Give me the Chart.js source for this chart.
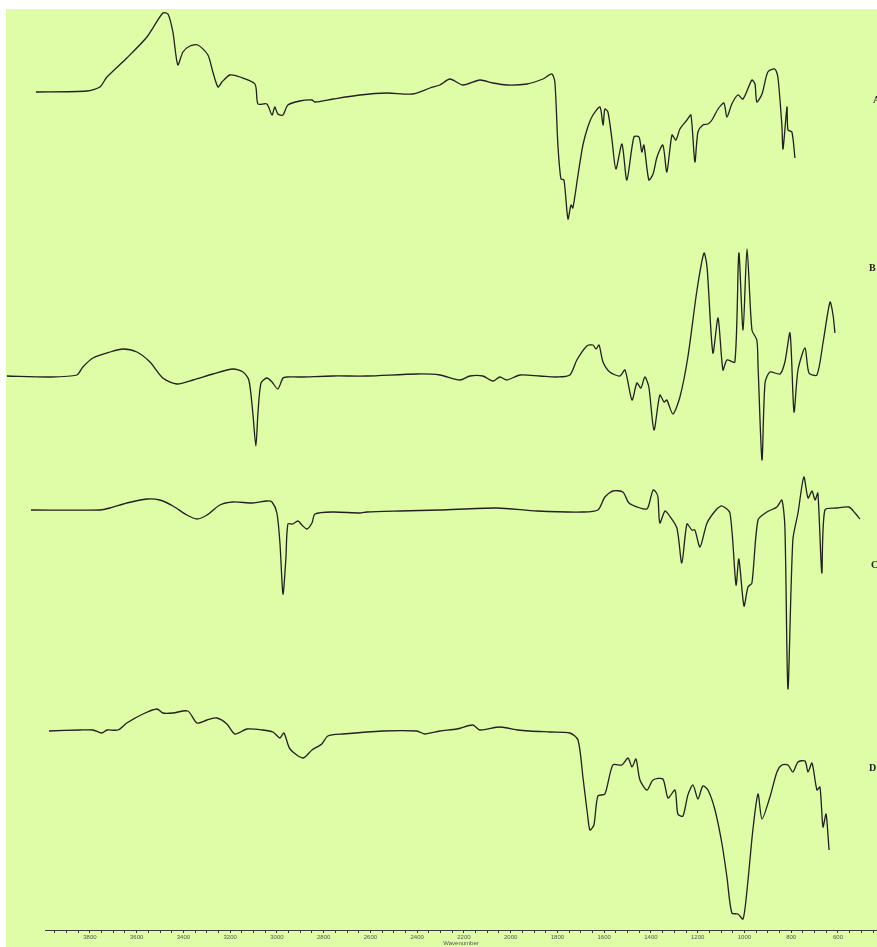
<!DOCTYPE html>
<html>
<head>
<meta charset="utf-8">
<script src="https://cdn.jsdelivr.net/npm/chart.js@4.4.1/dist/chart.umd.min.js"></script>
<style>
  html, body { margin: 0; padding: 0; background: #fff; }
  canvas { display: block; }
</style>
</head>
<body>
<canvas id="ftir" width="877" height="947"></canvas>
<script>
// --- Data: [wavenumber cm-1, relative transmittance] ---
const traceNames = ['A', 'B', 'C', 'D'];
const traceOffsets = [83.8, 55.4, 42.0, 19.9];   // vertical stacking of the four spectra
const axisTicks = [3800, 3600, 3400, 3200, 3000, 2800, 2600, 2400, 2200, 2000, 1800, 1600, 1400, 1200, 1000, 800, 600];

const traceA = [
    [4031, 0], [3813, 0.1], [3757, 0.5], [3727, 1.5], [3642, 3.4], [3556, 5.5], [3488, 7.9], [3466, 7.8],
    [3445, 6.0], [3424, 2.7], [3402, 4.0], [3372, 4.6], [3338, 4.7], [3295, 3.7], [3274, 2.0], [3252, 0.5],
    [3235, 1.0], [3201, 1.7], [3158, 1.5], [3094, 0.8], [3081, -1.2], [3043, -1.2], [3021, -2.3], [3009, -1.5],
    [2996, -2.2], [2974, -2.3], [2953, -1.3], [2902, -0.9], [2850, -0.8], [2837, -1.0], [2760, -0.7], [2645, -0.3],
    [2529, -0.1], [2418, -0.2], [2345, 0.4], [2303, 0.7], [2260, 1.3], [2204, 0.7], [2132, 1.2], [2076, 0.9],
    [2016, 0.7], [1930, 0.8], [1862, 1.3], [1824, 1.8], [1811, 1.0], [1798, -5.3], [1785, -8.7], [1772, -8.8],
    [1755, -12.7], [1742, -11.3], [1734, -11.6], [1712, -8.3], [1691, -5.3], [1670, -3.5], [1648, -2.3], [1618, -1.5],
    [1605, -3.3], [1597, -1.7], [1584, -2.0], [1567, -4.7], [1550, -7.7], [1524, -5.2], [1503, -8.8], [1473, -4.5],
    [1451, -4.5], [1439, -6.0], [1430, -5.3], [1409, -8.8], [1391, -8.2], [1374, -6.5], [1349, -5.3], [1332, -8.0],
    [1310, -4.3], [1293, -4.8], [1276, -3.7], [1246, -2.8], [1229, -2.3], [1212, -7.0], [1199, -4.0], [1178, -3.3],
    [1156, -3.2], [1139, -2.8], [1113, -1.7], [1088, -1.1], [1075, -2.5], [1054, -1.2], [1028, -0.3], [1006, -0.7],
    [968, 1.2], [955, 0.8], [947, -1.0], [925, -0.2], [900, 2.0], [870, 2.3], [857, 1.5], [840, -3.3],
    [835, -5.7], [818, -1.5], [814, -3.8], [797, -4.0], [784, -6.6]
];

const traceB = [
    [4155, 0], [3971, -0.1], [3856, 0.1], [3830, 0.9], [3787, 1.8], [3714, 2.4], [3659, 2.7], [3599, 2.4],
    [3543, 1.4], [3488, -0.2], [3428, -0.8], [3359, -0.4], [3274, 0.2], [3188, 0.7], [3145, 0.4], [3120, -0.4],
    [3103, -3.7], [3090, -7.0], [3081, -3.7], [3068, -0.7], [3043, -0.2], [3021, -0.6], [2996, -1.3], [2974, -0.2],
    [2957, -0.1], [2902, -0.1], [2760, 0], [2615, 0], [2401, 0.2], [2303, 0.1], [2217, -0.4], [2174, 0],
    [2119, 0], [2076, -0.5], [2046, -0.1], [2016, -0.4], [1960, 0.1], [1875, 0], [1802, -0.1], [1747, 0.1],
    [1717, 1.6], [1674, 3.0], [1648, 3.1], [1635, 2.7], [1622, 3.1], [1605, 1.4], [1576, 0.4], [1533, 0],
    [1511, 0.6], [1481, -2.4], [1460, -0.7], [1443, -1.2], [1426, -0.1], [1409, -1.1], [1387, -5.4], [1362, -1.9],
    [1344, -2.6], [1332, -2.4], [1306, -3.8], [1276, -2.1], [1242, 1.9], [1203, 8.6], [1173, 12.3], [1160, 10.9],
    [1135, 2.3], [1113, 5.8], [1092, 0.6], [1075, 1.6], [1041, 1.4], [1024, 12.3], [1006, 4.6], [989, 12.7],
    [968, 4.6], [947, 3.6], [942, 1.1], [925, -8.4], [912, -0.7], [891, 0.4], [848, 0.2], [827, 1.4],
    [805, 4.3], [788, -3.6], [771, 0.6], [741, 2.8], [724, 0.3], [690, 0.1], [664, 3.3], [634, 7.4],
    [621, 6.1], [613, 4.3]
];

const traceC = [
    [4052, 0], [3757, 0], [3714, 0.2], [3642, 0.7], [3556, 1.1], [3501, 1.0], [3445, 0.4], [3385, -0.5],
    [3342, -0.9], [3299, -0.5], [3244, 0.5], [3188, 0.8], [3103, 0.7], [3043, 0.9], [3021, 0.8], [3000, -0.3],
    [2987, -3.3], [2974, -8.4], [2962, -5.0], [2953, -1.4], [2932, -1.4], [2910, -1.1], [2893, -1.5], [2872, -1.9],
    [2850, -1.3], [2837, -0.4], [2760, -0.2], [2645, -0.3], [2615, -0.2], [2474, -0.1], [2303, 0], [2059, 0.2],
    [1888, -0.1], [1691, -0.2], [1627, 0], [1597, 1.3], [1563, 1.9], [1520, 1.8], [1494, 0.7], [1447, 0.2],
    [1417, 0.1], [1409, 0.5], [1391, 2.0], [1379, 1.8], [1370, 1.3], [1362, -1.3], [1340, -0.1], [1323, -0.5],
    [1289, -1.8], [1268, -5.3], [1246, -1.4], [1225, -2.0], [1212, -2.0], [1190, -3.7], [1160, -1.3], [1118, 0.1],
    [1096, 0.4], [1062, -0.3], [1036, -7.5], [1024, -4.9], [1002, -9.6], [985, -7.7], [968, -7.3], [942, -1.0],
    [904, -0.2], [861, 0.3], [840, 1.0], [827, -1.7], [814, -17.9], [793, -3.0], [771, -0.3], [746, 3.3],
    [728, 1.2], [711, 1.9], [698, 1.0], [686, 1.7], [669, -6.3], [656, 0], [604, 0.2], [553, 0.3],
    [527, -0.3], [506, -0.9]
];

const traceD = [
    [3975, 0], [3843, 0.1], [3787, 0.1], [3749, -0.2], [3727, 0.1], [3680, 0.1], [3642, 0.8], [3573, 1.7],
    [3513, 2.2], [3488, 1.8], [3445, 1.8], [3381, 2.0], [3342, 0.8], [3299, 1.1], [3257, 1.3], [3214, 0.7],
    [3180, -0.3], [3128, 0.2], [3060, 0.1], [3017, -0.1], [2987, -0.7], [2970, -0.2], [2944, -1.8], [2889, -2.7],
    [2850, -1.9], [2808, -1.3], [2782, -0.5], [2718, -0.3], [2547, 0], [2401, 0], [2367, -0.3], [2303, 0],
    [2230, 0.2], [2162, 0.6], [2132, 0.1], [2046, 0.4], [1969, 0.1], [1918, 0], [1832, -0.1], [1747, -0.2],
    [1712, -0.9], [1691, -4.6], [1670, -8.6], [1661, -9.9], [1644, -9.4], [1627, -6.5], [1597, -6.3], [1563, -3.4],
    [1524, -3.4], [1498, -2.7], [1481, -3.6], [1464, -2.8], [1447, -4.9], [1417, -5.9], [1391, -4.9], [1349, -4.8],
    [1327, -6.7], [1297, -5.9], [1285, -8.3], [1263, -8.5], [1242, -6.4], [1220, -5.4], [1199, -6.8], [1178, -5.5],
    [1156, -5.9], [1126, -7.9], [1096, -11.3], [1075, -14.6], [1054, -18.2], [1028, -18.3], [1006, -18.8], [989, -15.9],
    [964, -9.9], [942, -6.3], [925, -8.8], [891, -6.6], [861, -4.1], [840, -3.4], [814, -3.4], [793, -4.1],
    [771, -3.1], [741, -3.0], [728, -4.1], [711, -3.2], [690, -5.9], [677, -5.6], [664, -9.6], [651, -8.3],
    [638, -11.9]
];

const traces = [traceA, traceB, traceC, traceD];

// --- Paper background + sample letters on the right edge ---
const paperPlugin = {
    id: 'paper',
    beforeDraw(chart) {
        const c = chart.ctx;
        c.save();
        c.fillStyle = '#ffffff';
        c.fillRect(0, 0, chart.width, chart.height);
        c.fillStyle = '#dffca6';
        c.fillRect(6, 9, chart.width - 6, chart.height - 9);
        c.restore();
    },
    afterDraw(chart) {
        const c = chart.ctx;
        const spots = [[873, 100], [869, 268], [871, 565], [869, 768]];
        c.save();
        c.fillStyle = '#222';
        c.font = 'bold 10px "Liberation Serif"';
        c.textBaseline = 'middle';
        traceNames.forEach((name, i) => c.fillText(name, spots[i][0], spots[i][1]));
        c.restore();
    }
};

const datasets = traces.map((trace, i) => ({
    label: traceNames[i],
    data: trace.map(([wn, t]) => ({ x: wn, y: traceOffsets[i] + t })),
    borderColor: '#202020',
    borderWidth: 1.3,
    pointRadius: 0,
    tension: 0.25,
    fill: false,
    clip: false
}));

new Chart(document.getElementById('ftir').getContext('2d'), {
    type: 'line',
    data: { datasets },
    options: {
        responsive: false,
        animation: false,
        layout: { padding: { left: 45, right: 0, top: 0, bottom: 0 } },
        plugins: {
            legend: { display: false },
            tooltip: { enabled: false }
        },
        scales: {
            x: {
                type: 'linear',
                reverse: true,
                min: 433,
                max: 3992,
                afterFit: (scale) => { scale.height = 17; },
                border: { display: true, color: '#3a3a3a', width: 1 },
                grid: { drawOnChartArea: false, drawTicks: true, tickLength: 3, color: '#3a3a3a' },
                ticks: {
                    stepSize: 50,
                    includeBounds: false,
                    autoSkip: false,
                    maxRotation: 0,
                    padding: 1,
                    color: '#555',
                    font: { size: 6, family: '"Liberation Sans", Arial' },
                    callback: (v) => axisTicks.includes(v) ? String(v) : ''
                },
                title: {
                    display: true,
                    text: 'Wavenumber',
                    color: '#555',
                    padding: 0,
                    font: { size: 6, family: '"Liberation Sans", Arial' }
                }
            },
            y: { display: false, min: 0, max: 93 }
        }
    },
    plugins: [paperPlugin]
});
</script>
</body>
</html>
